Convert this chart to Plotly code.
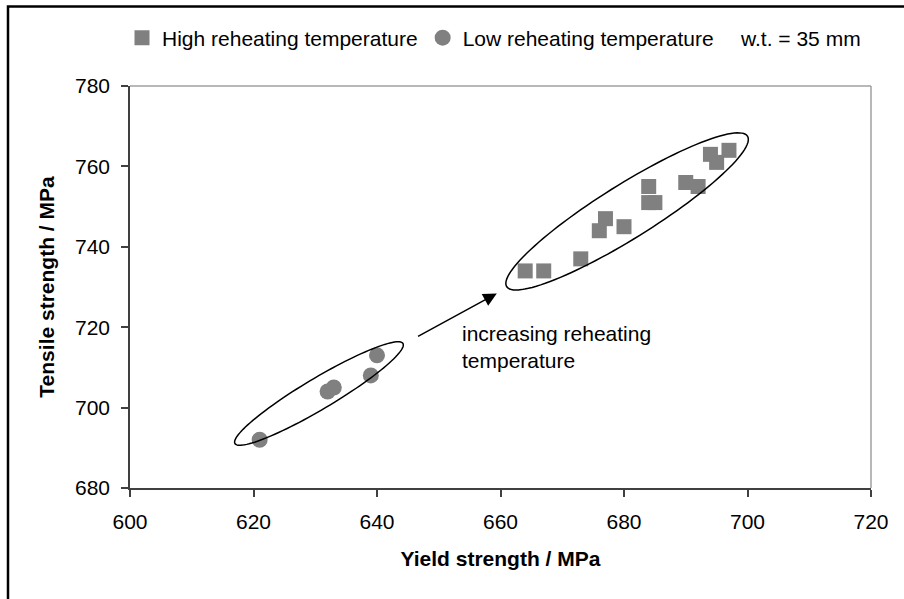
import numpy as np
import plotly.graph_objects as go

# ---- data ----
high_x = [664, 667, 673, 676, 677, 680, 684, 684, 685, 690, 692, 694, 695, 697]
high_y = [734, 734, 737, 744, 747, 745, 755, 751, 751, 756, 755, 763, 761, 764]
low_x = [621, 632, 633, 639, 640]
low_y = [692, 704, 705, 708, 713]
x_ticks = [600, 620, 640, 660, 680, 700, 720]
y_ticks = [680, 700, 720, 740, 760, 780]

# ellipse outlines: centre, conjugate half-axis vectors (data units)
ell_high = dict(c=(680.5, 748.8), a=(19.5, 18.7), b=(-2.3, 5.7))
ell_low = dict(c=(630.6, 703.5), a=(13.6, 12.45), b=(-1.3, 3.3))
arrow_tail = (646.4, 717.5)
arrow_tip = (659.4, 728.4)

FONT = "Arial, Liberation Sans, sans-serif"
W, H = 904, 599
ML, MR, MT, MB = 130, 33, 86, 111
PW = W - ML - MR
PH = H - MT - MB


def px2paper_x(px):
    return (px - ML) / PW


def px2paper_y(py):
    return (H - MB - py) / PH


def ellipse_path(e, n=120):
    t = np.linspace(0, 2 * np.pi, n)
    xs = e["c"][0] + e["a"][0] * np.cos(t) + e["b"][0] * np.sin(t)
    ys = e["c"][1] + e["a"][1] * np.cos(t) + e["b"][1] * np.sin(t)
    p = "M %.3f,%.3f " % (xs[0], ys[0])
    p += " ".join("L %.3f,%.3f" % (x, y) for x, y in zip(xs[1:], ys[1:]))
    return p + " Z"


fig = go.Figure()
fig.add_trace(go.Scatter(
    x=high_x, y=high_y, mode="markers", name="High reheating temperature",
    marker=dict(symbol="square", size=15, color="#808080", line=dict(width=0)),
))
fig.add_trace(go.Scatter(
    x=low_x, y=low_y, mode="markers", name="Low reheating temperature",
    marker=dict(symbol="circle", size=16, color="#808080", line=dict(width=0)),
))

shapes = []
for e in (ell_high, ell_low):
    shapes.append(dict(type="path", xref="x", yref="y", path=ellipse_path(e),
                       line=dict(color="black", width=1.5), layer="above"))
# top / right frame of plot area (gray)
shapes.append(dict(type="line", xref="paper", yref="paper", x0=0, x1=1, y0=1, y1=1,
                   line=dict(color="#a0a0a0", width=1.5), layer="below"))
shapes.append(dict(type="line", xref="paper", yref="paper", x0=1, x1=1, y0=0, y1=1,
                   line=dict(color="#a0a0a0", width=1.5), layer="below"))
# outer frame (extends beyond the picture on right & bottom)
shapes.append(dict(type="rect", xref="paper", yref="paper",
                   x0=px2paper_x(8), x1=px2paper_x(915),
                   y0=px2paper_y(615), y1=px2paper_y(6.5),
                   line=dict(color="black", width=2.5), fillcolor="rgba(0,0,0,0)",
                   layer="below"))

annotations = [
    dict(x=arrow_tip[0], y=arrow_tip[1], ax=arrow_tail[0], ay=arrow_tail[1],
         xref="x", yref="y", axref="x", ayref="y", text="", showarrow=True,
         arrowhead=2, arrowsize=1.8, arrowwidth=1.5, arrowcolor="black"),
    dict(x=653.4, y=715.1, xref="x", yref="y", xanchor="left", yanchor="middle",
         align="left", showarrow=False,
         text="increasing reheating<br>temperature",
         font=dict(family=FONT, size=21, color="black")),
    dict(x=px2paper_x(738), y=px2paper_y(38), xref="paper", yref="paper",
         xanchor="left", yanchor="middle", showarrow=False, text="w.t. = 35 mm",
         font=dict(family=FONT, size=21, color="black")),
]

fig.update_layout(
    width=W, height=H,
    margin=dict(l=ML, r=MR, t=MT, b=MB, pad=0),
    paper_bgcolor="white", plot_bgcolor="white",
    font=dict(family=FONT, size=21, color="black"),
    showlegend=True,
    legend=dict(orientation="h", x=px2paper_x(122), y=px2paper_y(38),
                xanchor="left", yanchor="middle", bgcolor="rgba(0,0,0,0)",
                font=dict(family=FONT, size=21, color="black"),
                itemsizing="trace", tracegroupgap=0),
    shapes=shapes,
    annotations=annotations,
    xaxis=dict(range=[600, 720], tickvals=x_ticks, ticktext=[str(v) for v in x_ticks],
               showgrid=False, zeroline=False, showline=True, linecolor="#404040",
               linewidth=1.5, ticks="outside", ticklen=7, tickwidth=1.5,
               tickcolor="#404040", ticklabelstandoff=7,
               tickfont=dict(family=FONT, size=21, color="black"),
               title=dict(text="<b>Yield strength / MPa</b>", standoff=19,
                          font=dict(family=FONT, size=21, color="black"))),
    yaxis=dict(range=[680, 780], tickvals=y_ticks, ticktext=[str(v) for v in y_ticks],
               showgrid=False, zeroline=False, showline=True, linecolor="#404040",
               linewidth=1.5, ticks="outside", ticklen=7, tickwidth=1.5,
               tickcolor="#404040", ticklabelstandoff=7,
               tickfont=dict(family=FONT, size=21, color="black"),
               title=dict(text="<b>Tensile strength / MPa</b>", standoff=15,
                          font=dict(family=FONT, size=21, color="black"))),
)

fig.write_html("out.html", config={"displayModeBar": False},
               post_script="document.body.style.margin='0';")
